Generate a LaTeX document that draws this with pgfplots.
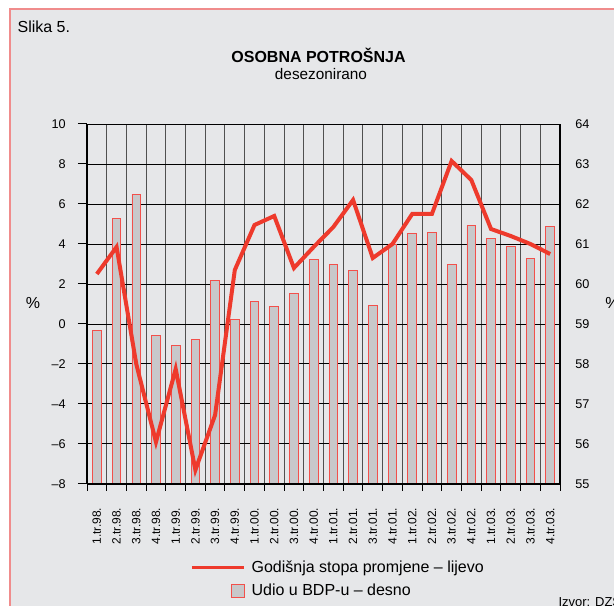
\documentclass[border=0pt]{standalone}
\usepackage{fontspec}
\setmainfont{Liberation Sans}
\usepackage{pgfplots}
\pgfplotsset{compat=1.18}
\definecolor{bg}{RGB}{230,231,233}
\definecolor{frame}{RGB}{240,140,140}
\definecolor{lred}{RGB}{238,58,44}
\definecolor{barfill}{RGB}{200,200,202}
\definecolor{baredge}{RGB}{242,80,75}
\definecolor{vgrid}{RGB}{80,80,80}
\begin{document}
\begin{tikzpicture}[x=1pt,y=1pt]
\useasboundingbox (0,0) rectangle (460.5,454.5);
\fill[white] (0,0) rectangle (460.5,454.5);
\fill[bg] (6.75,0) rectangle (460.5,448.5);
\draw[frame, line width=1.5pt] (7.5,0) -- (7.5,447.75) -- (460.5,447.75);
\node[anchor=base west, inner sep=0pt, font=\fontsize{12}{14}\selectfont] at (13,430.3) {Slika 5.};
\node[anchor=base, inner sep=0pt, font=\bfseries\fontsize{12}{14}\selectfont] at (238.9,407.25) {OSOBNA POTROŠNJA};
\node[anchor=base, inner sep=0pt, font=\fontsize{11.5}{14}\selectfont] at (240.75,394.5) {desezonirano};
\node[inner sep=0pt, font=\fontsize{12}{14}\selectfont] at (24.75,227.25) {\%};
\node[anchor=west, inner sep=0pt, font=\fontsize{12}{14}\selectfont] at (453.75,227.25) {\%};
\node[anchor=base west, inner sep=0pt, font=\fontsize{9.75}{12}\selectfont] at (418.7,-0.4) {Izvor: DZS};

% bars: share of GDP (right axis)
\begin{axis}[
  at={(65.25pt,91.5pt)}, anchor=south west, scale only axis,
  width=354.75pt, height=270pt,
  xmin=0.5, xmax=24.5, ymin=55, ymax=64,
  axis x line*=bottom, axis y line*=right,
  axis line style={-, line width=1.5pt, black},
  xtick={0.5,1.5,...,24.5}, xticklabels={},
  tick align=outside, major tick length=5.25pt,
  xtick style={black, line width=0.75pt},
  ytick={55,56,...,64}, yticklabels={55,56,57,58,59,60,61,62,63,64},
  ytick style={draw=none},
  yticklabel style={font=\fontsize{9.5}{11}\selectfont, anchor=west, inner sep=0pt, xshift=6pt},
  xmajorgrids, ymajorgrids,
  major x grid style={vgrid, line width=0.75pt},
  major y grid style={black, line width=0.75pt},
  ybar, bar width=6.5pt, bar shift=0pt,
]
\addplot[fill=barfill, draw=baredge, line width=0.6pt] coordinates {
(1,58.83) (2,61.64) (3,62.25) (4,58.71) (5,58.46) (6,58.61)
(7,60.10) (8,59.11) (9,59.56) (10,59.43) (11,59.77) (12,60.61)
(13,60.48) (14,60.33) (15,59.46) (16,61.00) (17,61.27) (18,61.30)
(19,60.48) (20,61.46) (21,61.14) (22,60.93) (23,60.64) (24,61.44)};
\end{axis}

% line: annual rate of change (left axis)
\begin{axis}[
  at={(65.25pt,91.5pt)}, anchor=south west, scale only axis,
  width=354.75pt, height=270pt,
  xmin=0.5, xmax=24.5, ymin=-8, ymax=10,
  axis x line*=bottom, axis y line*=left,
  axis line style={-, line width=1.5pt, black},
  xtick={1,...,24},
  xticklabels={1.tr.98.,2.tr.98.,3.tr.98.,4.tr.98.,1.tr.99.,2.tr.99.,3.tr.99.,4.tr.99.,1.tr.00.,2.tr.00.,3.tr.00.,4.tr.00.,1.tr.01.,2.tr.01.,3.tr.01.,4.tr.01.,1.tr.02.,2.tr.02.,3.tr.02.,4.tr.02.,1.tr.03.,2.tr.03.,3.tr.03.,4.tr.03.},
  xtick style={draw=none},
  xticklabel style={yshift=-11pt, rotate=90, anchor=east, inner sep=0pt, font=\fontsize{9}{11}\selectfont},
  ytick={-8,-6,...,10}, yticklabels={–8,–6,–4,–2,0,2,4,6,8,10},
  tick align=outside, major tick length=6.75pt,
  ytick style={black, line width=0.75pt},
  yticklabel style={font=\fontsize{9.5}{11}\selectfont, anchor=east, inner sep=0pt, xshift=-9pt},
  legend style={draw=none, fill=none, at={(0.2178,-0.2047)}, anchor=north west,
    font=\fontsize{12}{14}\selectfont, row sep=3.5pt, inner sep=0pt, cells={anchor=west},
    /tikz/every odd column/.append style={column sep=2.5pt}},
  legend cell align=left,
]
\addplot[lred, line width=3pt, line join=miter,
  legend image code/.code={\draw[lred, line width=2.5pt] (0pt,0pt) -- (39pt,0pt);}] coordinates {
(1,2.5) (2,3.85) (3,-2.0) (4,-5.9) (5,-2.25) (6,-7.3)
(7,-4.55) (8,2.7) (9,4.95) (10,5.4) (11,2.8) (12,3.85)
(13,4.85) (14,6.2) (15,3.3) (16,4.0) (17,5.5) (18,5.5)
(19,8.15) (20,7.2) (21,4.75) (22,4.4) (23,4.0) (24,3.5)};
\addlegendentry{Godišnja stopa promjene – lijevo}
\addlegendimage{legend image code/.code={\draw[fill=barfill, draw=baredge, line width=0.6pt] (29.8pt,-4.9pt) rectangle (39.5pt,4.9pt);}}
\addlegendentry{Udio u BDP-u – desno}
\end{axis}
\end{tikzpicture}
\end{document}
